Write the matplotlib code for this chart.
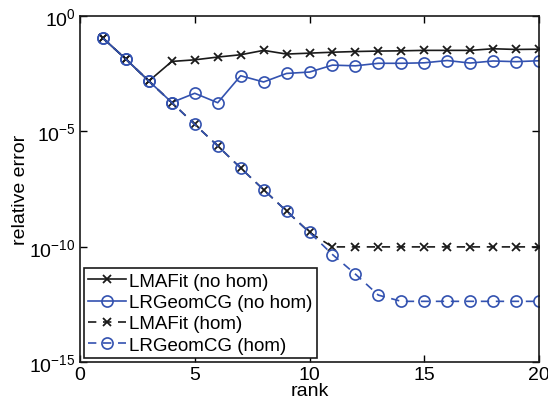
import matplotlib
matplotlib.use("Agg")
import matplotlib.pyplot as plt
import numpy as np

plt.rcParams['font.family'] = ['Liberation Sans', 'DejaVu Sans']
plt.rcParams['mathtext.fontset'] = 'custom'
plt.rcParams['mathtext.rm'] = 'Liberation Sans'
plt.rcParams['mathtext.it'] = 'Liberation Sans:italic'

rank = list(range(1, 21))

# log10 of relative error
lmafit_nohom = [-0.96, -1.87, -2.82, -1.97, -1.90, -1.78, -1.68, -1.49, -1.65, -1.61,
                -1.57, -1.54, -1.52, -1.51, -1.49, -1.49, -1.49, -1.42, -1.45, -1.44]
lrgeom_nohom = [-0.96, -1.87, -2.82, -3.75, -3.35, -3.76, -2.59, -2.86, -2.49, -2.43,
                -2.13, -2.16, -2.05, -2.05, -2.03, -1.93, -2.04, -1.95, -1.98, -1.94]
lmafit_hom = [-0.96, -1.87, -2.82, -3.75, -4.70, -5.63, -6.59, -7.53, -8.46, -9.38,
              -10.01, -10.01, -10.01, -10.01, -10.01, -10.01, -10.01, -10.01, -10.01, -10.01]
lrgeom_hom = [-0.96, -1.87, -2.82, -3.75, -4.70, -5.63, -6.59, -7.53, -8.46, -9.38,
              -10.34, -11.19, -12.10, -12.37, -12.37, -12.37, -12.37, -12.37, -12.37, -12.37]

labels = ['LMAFit (no hom)', 'LRGeomCG (no hom)', 'LMAFit (hom)', 'LRGeomCG (hom)']

blue = '#3352b0'
black = '#1a1a1a'

fig = plt.figure(figsize=(5.48, 4.10), dpi=100)
ax = fig.add_axes([80/548, 1-363/410, 459/548, 346/410])

ax.semilogy(rank, 10**np.array(lmafit_nohom), '-x', color=black, lw=1.2, ms=6, mew=1.3, label=labels[0])
ax.semilogy(rank, 10**np.array(lrgeom_nohom), '-o', color=blue, lw=1.2, ms=8, mew=1.2,
            mfc='none', label=labels[1])
ax.semilogy(rank, 10**np.array(lmafit_hom), '--x', color=black, lw=1.2, ms=6, mew=1.3,
            dashes=(5, 4), label=labels[2])
ax.semilogy(rank, 10**np.array(lrgeom_hom), '--o', color=blue, lw=1.2, ms=8, mew=1.2,
            mfc='none', dashes=(5, 4), label=labels[3])

ax.set_xlim(0, 20)
ax.set_ylim(1e-15, 1)
ax.set_xticks([0, 5, 10, 15, 20])
ax.set_yticks([1e-15, 1e-10, 1e-5, 1])
ax.set_yticklabels([r'$10^{-15}$', r'$10^{-10}$', r'$10^{-5}$', r'$10^{0}$'])
ax.minorticks_off()
ax.tick_params(direction='in', top=True, right=True, labelsize=14, length=5, width=1, pad=3)
for s in ax.spines.values():
    s.set_linewidth(1.2)
    s.set_color(black)

ax.set_xlabel('rank', fontsize=14, labelpad=-1)
ax.set_ylabel('relative error', fontsize=14, labelpad=0)

leg = ax.legend(loc='lower left', fontsize=13.5, handlelength=2.0, handletextpad=0.15,
                borderpad=0.25, labelspacing=0.22, borderaxespad=0.2, fancybox=False,
                framealpha=1, edgecolor=black)
leg.get_frame().set_linewidth(1.2)

fig.savefig('out.png', dpi=100)
